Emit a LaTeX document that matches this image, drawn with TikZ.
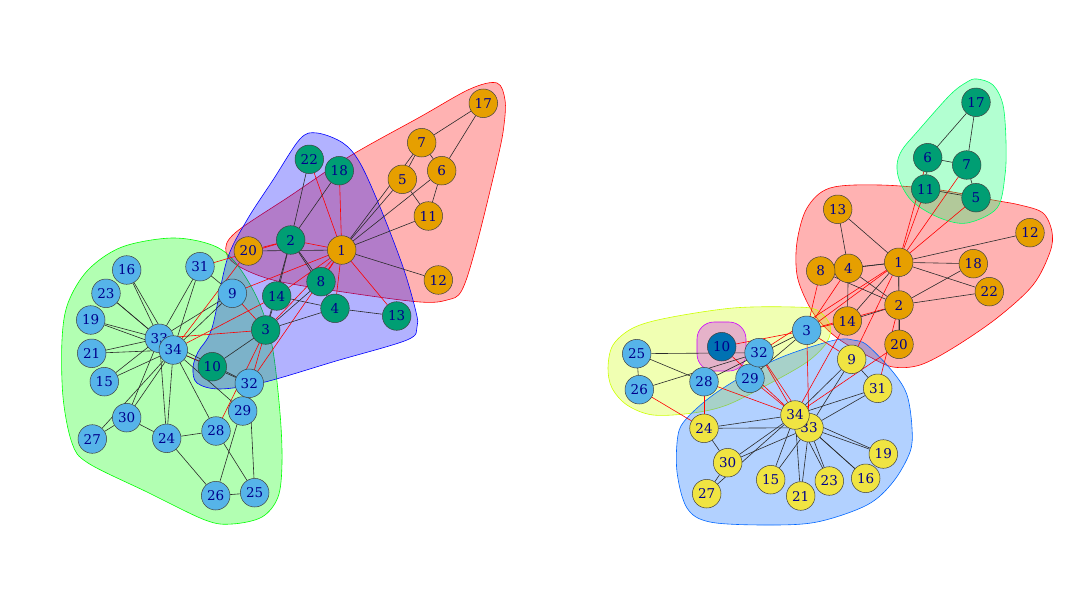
\documentclass[tikz,border=0pt]{standalone}
\usepackage{fontspec}
\newfontfamily\labfont{DejaVu Serif}
\definecolor{Orange}{HTML}{E69F00}
\definecolor{Teal}{HTML}{009E73}
\definecolor{Sky}{HTML}{56B4E9}
\definecolor{Yellow}{HTML}{F0E442}
\definecolor{Deep}{HTML}{0072B2}
\definecolor{LabelBlue}{HTML}{00008B}
\definecolor{EdgeInk}{HTML}{2B2B2B}
\definecolor{HullRed}{HTML}{FF0000}
\definecolor{HullGreen}{HTML}{00FF00}
\definecolor{HullBlue}{HTML}{0000FF}
\definecolor{HullLime}{HTML}{CCFF00}
\definecolor{HullMint}{HTML}{00FF66}
\definecolor{HullAzure}{HTML}{0066FF}
\definecolor{HullViolet}{HTML}{CC00FF}
\colorlet{lcol1}{Orange}
\colorlet{lcol2}{Teal}
\colorlet{lcol3}{Sky}
\colorlet{rcol1}{Orange}
\colorlet{rcol2}{Teal}
\colorlet{rcol3}{Sky}
\colorlet{rcol4}{Deep}
\colorlet{rcol5}{Yellow}
\pgfdeclarelayer{hulls}
\pgfdeclarelayer{edges}
\pgfsetlayers{hulls,edges,main}
\tikzset{
  vtx/.style={circle,draw=black!75,line width=0.5pt,minimum size=28.6pt,inner sep=0pt,font=\labfont\fontsize{13.5}{14}\selectfont,text=LabelBlue},
  inedge/.style={draw=EdgeInk,line width=0.6pt},
  xedge/.style={draw=HullRed,line width=0.6pt},
  hull/.style={draw=#1,fill=#1,fill opacity=0.3,line width=0.6pt}
}
\def\karate{1/2,1/3,1/4,1/5,1/6,1/7,1/8,1/9,1/11,1/12,1/13,1/14,1/18,1/20,1/22,1/32,
  2/3,2/4,2/8,2/14,2/18,2/20,2/22,2/31,3/4,3/8,3/9,3/10,3/14,3/28,3/29,3/33,
  4/8,4/13,4/14,5/7,5/11,6/7,6/11,6/17,7/17,9/31,9/33,9/34,10/34,14/34,
  15/33,15/34,16/33,16/34,19/33,19/34,20/34,21/33,21/34,23/33,23/34,
  24/26,24/28,24/30,24/33,24/34,25/26,25/28,25/32,26/32,27/30,27/34,28/34,
  29/32,29/34,30/33,30/34,31/33,31/34,32/33,32/34,33/34}

\begin{document}
\begin{tikzpicture}[x=1pt,y=-1pt]
  \useasboundingbox (0,0) rectangle (1092,613);

  % left: three groups
  \begin{pgfonlayer}{hulls}
    \draw[hull=HullRed] plot[smooth cycle,tension=0.55] coordinates {(235,233) (290,196) (350,156) (420,117) (470,89) (497,83) (505,100) (504,125) (498,157) (477,243) (462,290) (447,300) (420,302) (350,293) (277,281) (240,267) (226,252)};
    \draw[hull=HullGreen] plot[smooth cycle,tension=0.55] coordinates {(172,238) (212,245) (235,262) (258,300) (272,345) (280,413) (282,463) (278,497) (262,517) (232,524) (205,520) (147,492) (88,463) (72,443) (63,397) (62,340) (68,303) (88,270) (122,247)};
    \draw[hull=HullBlue] plot[smooth cycle,tension=0.55] coordinates {(317,133) (343,143) (360,163) (380,207) (403,267) (416,312) (417,327) (407,340) (336,361) (265,382) (220,389) (197,383) (193,368) (198,352) (212,328) (227,260) (247,220) (273,180) (300,139)};
  \end{pgfonlayer}
  \foreach \n/\px/\py/\g in {1/341.7/250/1, 2/290.7/240/2, 3/265.7/330/2, 4/335/308.3/2,
      5/402.3/179.3/1, 6/441.7/170.7/1, 7/421.7/142.7/1, 8/321/281.7/2, 9/232.3/293.3/3,
      10/212.3/366.7/2, 11/428.3/216/1, 12/438.3/280/1, 13/396.7/316/2, 14/276.7/296/2,
      15/104.3/381.7/3, 16/126.7/270/3, 17/483.3/103.3/1, 18/339.3/170.7/2, 19/90.7/320/3,
      20/248.3/251/1, 21/91.7/353.3/3, 22/309.3/159.3/2, 23/106/293.3/3, 24/166.7/438.3/3,
      25/254.7/492.7/3, 26/215.7/495.7/3, 27/92.3/439/3, 28/216/431/3, 29/242.7/411/3,
      30/126.7/417.7/3, 31/200/266.7/3, 32/249.3/383.3/3, 33/159.3/338.3/3, 34/173.3/350/3}{
    \node[vtx,fill=lcol\g] (l\n) at (\px,\py) {\n};
    \expandafter\xdef\csname lg\n\endcsname{\g}
  }
  \begin{pgfonlayer}{edges}
    \foreach \a/\b in \karate{
      \ifnum\csname lg\a\endcsname=\csname lg\b\endcsname\relax
        \draw[inedge] (l\a) -- (l\b);
      \else
        \draw[xedge] (l\a) -- (l\b);
      \fi
    }
  \end{pgfonlayer}

  % right: five groups
  \begin{pgfonlayer}{hulls}
    \draw[hull=HullRed] plot[smooth cycle,tension=0.55] coordinates {(880,185) (830,188) (807,208) (797,242) (797,275) (807,302) (820,322) (840,340) (870,357) (893,367) (920,365) (953,348) (997,318) (1033,285) (1050,252) (1052,232) (1043,213) (1020,205) (993,200) (940,190)};
    \draw[hull=HullLime] plot[smooth cycle,tension=0.55] coordinates {(608,368) (613,345) (633,328) (667,318) (733,308) (793,307) (817,310) (830,325) (827,342) (807,362) (767,385) (727,405) (693,413) (653,415) (627,405) (612,388)};
    \draw[hull=HullMint] plot[smooth cycle,tension=0.55] coordinates {(977,79) (993,85) (1003,105) (1006,142) (1005,175) (997,208) (967,223) (940,218) (913,202) (900,182) (897,165) (902,150) (917,132) (950,95) (967,82)};
    \draw[hull=HullAzure] plot[smooth cycle,tension=0.55] coordinates {(853,340) (867,345) (893,372) (907,395) (912,428) (910,452) (893,482) (867,505) (817,522) (767,525) (710,522) (687,508) (677,472) (678,435) (687,418) (713,395) (750,372) (787,355) (827,342) (843,339)};
    \draw[hull=HullViolet,rounded corners=17pt] (697,322) rectangle (746,371);
  \end{pgfonlayer}
  \foreach \n/\px/\py/\g in {1/898.7/262.3/1, 2/899/305/1, 3/806.7/330.3/3, 4/848.3/268.3/1,
      5/976/197.7/2, 6/927.7/157.7/2, 7/966.7/165/2, 8/820.7/271/1, 9/851.7/359.3/5,
      10/721.7/346.7/4, 11/925.7/189/2, 12/1030/232.7/1, 13/837.7/209.3/1, 14/847.3/321/1,
      15/770.7/479.7/5, 16/865.7/478.3/5, 17/976/102.3/2, 18/973.3/263.7/1, 19/883.3/454/5,
      20/899/344.3/1, 21/800.7/496/5, 22/989.3/291.7/1, 23/829.3/481/5, 24/704/428.3/5,
      25/636.7/353.7/3, 26/639.3/389.7/3, 27/706.7/493.7/5, 28/704/381.7/3, 29/750/378.3/3,
      30/727.7/462.7/5, 31/877.7/388.3/5, 32/759/352.7/3, 33/809/427.7/5, 34/795/415/5}{
    \node[vtx,fill=rcol\g] (r\n) at (\px,\py) {\n};
    \expandafter\xdef\csname rg\n\endcsname{\g}
  }
  \begin{pgfonlayer}{edges}
    \foreach \a/\b in \karate{
      \ifnum\csname rg\a\endcsname=\csname rg\b\endcsname\relax
        \draw[inedge] (r\a) -- (r\b);
      \else
        \draw[xedge] (r\a) -- (r\b);
      \fi
    }
  \end{pgfonlayer}
\end{tikzpicture}
\end{document}
